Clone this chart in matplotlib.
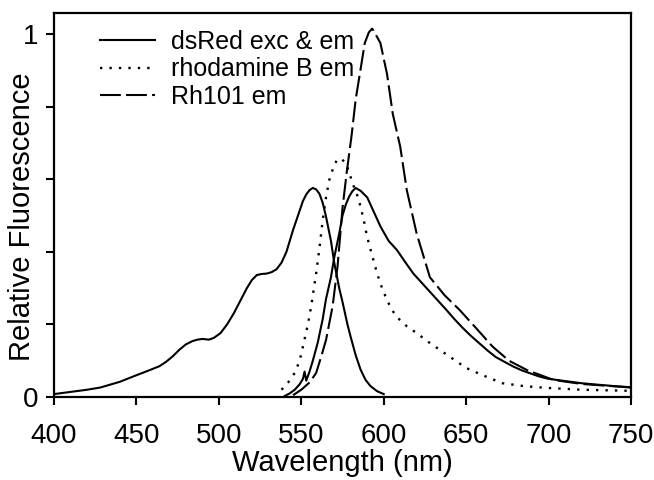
import numpy as np
import matplotlib.pyplot as plt

plt.rc("font", family=["Liberation Sans", "DejaVu Sans"], size=18)

# dsRed excitation (left band)
exc_x = [400, 410, 420, 428, 440, 450, 458, 464, 468, 472, 476, 480, 484, 487,
         490, 494, 497, 501, 505, 509, 513, 517, 520, 523, 526, 529, 532, 535,
         538, 541, 545, 548, 551, 553, 555, 557, 559, 561, 563, 565, 568, 570,
         573, 575, 578, 580, 583, 586, 589, 592, 596, 600]
exc_y = [0.008, 0.014, 0.02, 0.026, 0.042, 0.06, 0.074, 0.085, 0.097, 0.112,
         0.13, 0.145, 0.154, 0.158, 0.16, 0.158, 0.163, 0.176, 0.2, 0.23, 0.265,
         0.3, 0.322, 0.336, 0.339, 0.34, 0.344, 0.352, 0.37, 0.4, 0.46, 0.5,
         0.54, 0.558, 0.57, 0.576, 0.572, 0.56, 0.535, 0.497, 0.43, 0.37, 0.3,
         0.262, 0.2, 0.165, 0.115, 0.075, 0.047, 0.03, 0.016, 0.008]

# dsRed emission
em_x = [540, 543, 546, 549, 551, 552, 553, 555, 557, 560, 563, 565, 568, 570,
        573, 575, 577, 579, 581, 583, 586, 590, 594, 598, 603, 608, 613, 618,
        623, 628, 633, 638, 643, 648, 653, 658, 663, 668, 674, 679, 684, 689,
        694, 699, 705, 710, 715, 720, 727, 735, 742, 750]
em_y = [0.003, 0.01, 0.02, 0.035, 0.05, 0.07, 0.045, 0.07, 0.1, 0.15, 0.215,
        0.27, 0.33, 0.385, 0.45, 0.5, 0.53, 0.552, 0.567, 0.576, 0.568, 0.55,
        0.51, 0.47, 0.43, 0.405, 0.372, 0.34, 0.315, 0.29, 0.265, 0.24, 0.214,
        0.19, 0.168, 0.148, 0.128, 0.11, 0.095, 0.083, 0.073, 0.065, 0.057,
        0.051, 0.047, 0.044, 0.041, 0.038, 0.035, 0.032, 0.029, 0.026]

# rhodamine B emission
rb_x = [538, 542, 546, 549, 551, 554, 556, 559, 561, 563, 565, 567, 570, 572,
        574, 577, 579, 581, 584, 586, 588, 590, 593, 596, 599, 602, 605, 608,
        614, 620, 627, 634, 642, 650, 660, 672, 685, 699, 720, 750]
rb_y = [0.02, 0.04, 0.066, 0.1, 0.139, 0.2, 0.25, 0.34, 0.41, 0.487, 0.55,
        0.598, 0.64, 0.655, 0.657, 0.645, 0.62, 0.59, 0.555, 0.524, 0.485, 0.44,
        0.39, 0.34, 0.3, 0.267, 0.24, 0.22, 0.195, 0.176, 0.152, 0.13, 0.105,
        0.08, 0.06, 0.038, 0.03, 0.025, 0.02, 0.017]

# Rh101 emission
rh_x = [545, 550, 555, 559, 562, 565, 569, 572, 575, 577.5, 580.5, 583, 585.5,
        588.5, 591, 593, 595, 598, 602, 605.5, 610, 614, 620, 628, 637, 646,
        656, 666, 676, 687, 703, 720, 735, 750]
rh_y = [0.005, 0.02, 0.04, 0.066, 0.11, 0.157, 0.25, 0.36, 0.52, 0.617, 0.72,
        0.82, 0.89, 0.975, 1.005, 1.015, 1.0, 0.975, 0.89, 0.78, 0.69, 0.57,
        0.45, 0.33, 0.28, 0.24, 0.19, 0.139, 0.1, 0.074, 0.047, 0.036, 0.031,
        0.027]

fig = plt.figure(figsize=(6.54, 4.8), dpi=100)
ax = fig.add_axes([54 / 654, 1 - 397 / 480, 577 / 654, 384 / 480])

ax.plot(exc_x, exc_y, color="black", linewidth=1.5, label="dsRed exc & em")
ax.plot(em_x, em_y, color="black", linewidth=1.5)
ax.plot(rb_x, rb_y, color="black", linewidth=1.7, linestyle=(0, (1, 3)),
        label="rhodamine B em")
ax.plot(rh_x, rh_y, color="black", linewidth=1.5, linestyle=(0, (10, 2.5)),
        label="Rh101 em")

ax.set_xlim(400, 750)
ax.set_ylim(0, 1.058)
ax.set_xticks(np.arange(400, 751, 50))
ax.set_yticks([0, 0.2, 0.4, 0.6, 0.8, 1])
ax.set_yticklabels(["0", "", "", "", "", "1"])
ax.tick_params(direction="out", length=6, width=1.5, labelsize=20)
ax.tick_params(axis="x", pad=13)
ax.tick_params(axis="y", pad=5)
for s in ax.spines.values():
    s.set_linewidth(1.6)

ax.set_xlabel("Wavelength (nm)", fontsize=21, labelpad=0)
ax.set_ylabel("Relative Fluorescence", fontsize=21, va="center")
ax.yaxis.set_label_coords(-0.0546, 0.47)

ax.legend(loc="upper left", bbox_to_anchor=(0.04, 1.015), frameon=False,
          fontsize=18, handlelength=2.2, handletextpad=0.65, labelspacing=0.15)

fig.savefig("out.png", dpi=100)
